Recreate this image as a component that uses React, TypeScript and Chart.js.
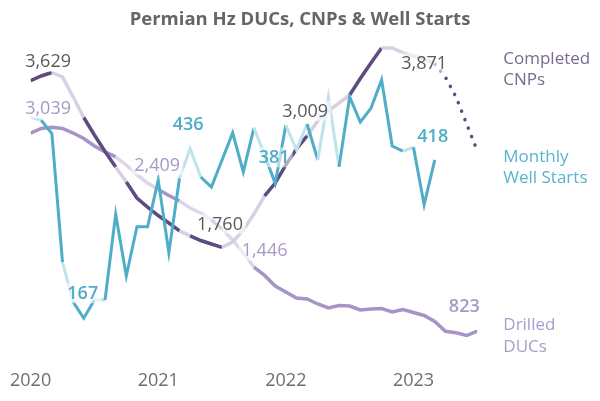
import React, { useEffect, useRef } from "react";
import { Chart, registerables } from "chart.js";

Chart.register(...registerables);

// ---------- data (monthly, index 0 = Jan 2020) ----------
const chartTitle = "Permian Hz DUCs, CNPs & Well Starts";
const startYear = 2020;
const yearTickIndexes = [0, 12, 24, 36];
const lastIndex = 42; // Jul 2023

const wellStarts = [
  486, 481, 460, 256, 193, 167, 196, 196, 332, 234, 312, 312, 386, 271, 389, 436, 391, 375, 418, 461,
  399, 469, 426, 381, 473, 434, 475, 418, 518, 407, 518, 478, 500, 545, 440, 432, 438, 347, 418,
];

const completedCNPs = [
  3629, 3680, 3719, 3669, 3445, 3215, 3019, 2834, 2660, 2492, 2313, 2212, 2117, 2033, 1944, 1888, 1837,
  1798, 1760, 1820, 1955, 2134, 2336, 2481, 2683, 2862, 3009, 3176, 3288, 3377, 3467, 3652, 3826, 3994,
  3994, 3938, 3904, 3871, 3814,
];

const cnpForecastStart = 38;
const cnpForecast = [3814, 3669, 3445, 3142, 2840];

const drilledDUCs = [
  3039, 3092, 3105, 3092, 3041, 2980, 2896, 2829, 2773, 2683, 2571, 2481, 2409, 2341, 2280, 2201, 2145,
  2067, 1966, 1843, 1697, 1540, 1446, 1327, 1260, 1193, 1182, 1126, 1081, 1109, 1103, 1059, 1070, 1075,
  1036, 1064, 1031, 997, 930, 820, 803, 773, 823,
];

// axis ranges
const countRange = { min: 498.5, max: 4083 };
const startsRange = { min: 100.8, max: 608.2 };

// segments drawn in the faded tone
const tealFaded = [0, 3, 6, 14, 15, 21, 24, 25, 27, 28, 35];
const cnpFaded = [2, 3, 4, 8, 14, 18, 19, 20, 21, 26, 27, 28, 29, 33, 34, 35, 36, 37];
const ducFaded = [8, 9, 10, 11, 14, 15, 16, 18, 19, 20];

// colours
const TEAL = "#4fadc8";
const TEAL_LIGHT = "#bfe2ec";
const CNP = "#5e4b80";
const CNP_LIGHT = "#d8d0e2";
const DUC = "#a694c6";
const DUC_LIGHT = "#ddd5e9";

const FONT = "'Open Sans', 'Noto Sans', sans-serif";

// value labels: dataset index, point index, offsets of the text centre from the point
const valueLabels = [
  { ds: 1, i: 0, dx: 17.5, dy: -19, color: "#5a5a5a", weight: "normal" },
  { ds: 1, i: 18, dx: -2, dy: -23.5, color: "#5a5a5a", weight: "normal" },
  { ds: 1, i: 26, dx: -2, dy: -25, color: "#5a5a5a", weight: "normal" },
  { ds: 1, i: 37, dx: 0, dy: 4, color: "#5a5a5a", weight: "normal" },
  { ds: 3, i: 0, dx: 17.5, dy: -24.5, color: "#a898c8", weight: "normal" },
  { ds: 3, i: 12, dx: -1, dy: -24.5, color: "#a898c8", weight: "normal" },
  { ds: 3, i: 22, dx: 0, dy: -25, color: "#a898c8", weight: "normal" },
  { ds: 3, i: 42, dx: -13, dy: -24.5, color: "#a898c8", weight: "600" },
  { ds: 0, i: 5, dx: -1, dy: -25, color: "#4fadc8", weight: "600" },
  { ds: 0, i: 15, dx: -2, dy: -24.5, color: "#4fadc8", weight: "600" },
  { ds: 0, i: 23, dx: -1, dy: -26, color: "#4fadc8", weight: "600" },
  { ds: 0, i: 38, dx: -2, dy: -23.5, color: "#4fadc8", weight: "600" },
];

// series names drawn to the right of the plot
const seriesNames = [
  { lines: ["Completed", "CNPs"], top: 23.5, color: "#7a6b8f" },
  { lines: ["Monthly", "Well Starts"], top: 121.5, color: "#5ab3cb" },
  { lines: ["Drilled", "DUCs"], top: 290, color: "#ab9dcb" },
];

const toPoints = (arr: number[], offset = 0) => arr.map((v, k) => ({ x: k + offset, y: v }));

const labelPlugin = {
  id: "valueLabels",
  afterDatasetsDraw(chart: any) {
    const ctx = chart.ctx;
    const area = chart.chartArea;
    ctx.save();
    for (const l of valueLabels) {
      const meta = chart.getDatasetMeta(l.ds);
      const ds = chart.data.datasets[l.ds];
      const pt = meta.data[l.i];
      if (!pt) continue;
      const raw = ds.data[l.i].y as number;
      const text = raw.toLocaleString("en-US");
      ctx.font = `${l.weight} 18px ${FONT}`;
      const w = ctx.measureText(text).width;
      const cx = pt.x + l.dx;
      const cy = pt.y + l.dy;
      ctx.fillStyle = "rgba(255,255,255,0.55)";
      ctx.fillRect(cx - w / 2 - 3, cy - 10, w + 6, 20);
      ctx.fillStyle = l.color;
      ctx.textAlign = "center";
      ctx.textBaseline = "middle";
      ctx.fillText(text, cx, cy + 0.5);
    }
    ctx.font = `17px ${FONT}`;
    ctx.textAlign = "left";
    ctx.textBaseline = "alphabetic";
    for (const s of seriesNames) {
      ctx.fillStyle = s.color;
      s.lines.forEach((line, k) => {
        ctx.fillText(line, area.right + 26, area.top + s.top + k * 21.5);
      });
    }
    // chart title, centred on the whole canvas
    ctx.font = `bold 18.5px ${FONT}`;
    ctx.textAlign = "center";
    ctx.fillStyle = "#666666";
    ctx.fillText(chartTitle, chart.width / 2, 25);
    ctx.restore();
  },
};

export default function App() {
  const ref = useRef<HTMLCanvasElement | null>(null);

  useEffect(() => {
    if (!ref.current) return;
    const fadedSeg = (list: number[], dark: string, light: string) => (c: any) =>
      list.includes(c.p0DataIndex) ? light : dark;

    const chart = new Chart(ref.current, {
      type: "line",
      data: {
        datasets: [
          {
            label: "Monthly Well Starts",
            data: toPoints(wellStarts),
            yAxisID: "y2",
            borderColor: TEAL,
            borderWidth: 3,
            pointRadius: 0,
            tension: 0,
            order: 0,
            segment: { borderColor: fadedSeg(tealFaded, TEAL, TEAL_LIGHT) },
          },
          {
            label: "Completed CNPs",
            data: toPoints(completedCNPs),
            yAxisID: "y",
            borderColor: CNP,
            borderWidth: 3.5,
            pointRadius: 0,
            tension: 0,
            order: 1,
            segment: { borderColor: fadedSeg(cnpFaded, CNP, CNP_LIGHT) },
          },
          {
            label: "CNP forecast",
            data: toPoints(cnpForecast, cnpForecastStart),
            yAxisID: "y",
            borderColor: CNP,
            borderWidth: 3.5,
            borderDash: [0.1, 9],
            borderCapStyle: "round",
            pointRadius: 0,
            tension: 0,
            order: 1,
          },
          {
            label: "Drilled DUCs",
            data: toPoints(drilledDUCs),
            yAxisID: "y",
            borderColor: DUC,
            borderWidth: 3.5,
            pointRadius: 0,
            tension: 0,
            order: 2,
            segment: { borderColor: fadedSeg(ducFaded, DUC, DUC_LIGHT) },
          },
        ],
      },
      options: {
        responsive: false,
        animation: false,
        events: [],
        layout: { padding: { left: 27.5, right: 122.7, top: 40, bottom: 0 } },
        plugins: {
          legend: { display: false },
          tooltip: { enabled: false },
          title: { display: false },
        },
        scales: {
          x: {
            type: "linear",
            min: 0,
            max: lastIndex,
            grid: { display: false, drawTicks: false },
            border: { display: false },
            afterBuildTicks: (scale: any) => {
              scale.ticks = yearTickIndexes.map((v) => ({ value: v }));
            },
            afterFit: (scale: any) => {
              scale.height = 41;
            },
            ticks: {
              autoSkip: false,
              maxRotation: 0,
              padding: 10,
              color: "#6e6e6e",
              font: { family: FONT, size: 18 },
              callback: (v: any) => String(startYear + Math.round(Number(v) / 12)),
            },
          },
          y: { display: false, min: countRange.min, max: countRange.max },
          y2: { display: false, position: "right", min: startsRange.min, max: startsRange.max },
        },
      },
      plugins: [labelPlugin],
    });
    return () => chart.destroy();
  }, []);

  return (
    <div style={{ position: "fixed", left: 0, top: 0, width: 600, height: 401, background: "#fff" }}>
      <canvas ref={ref} width={600} height={401} style={{ display: "block" }} />
    </div>
  );
}
